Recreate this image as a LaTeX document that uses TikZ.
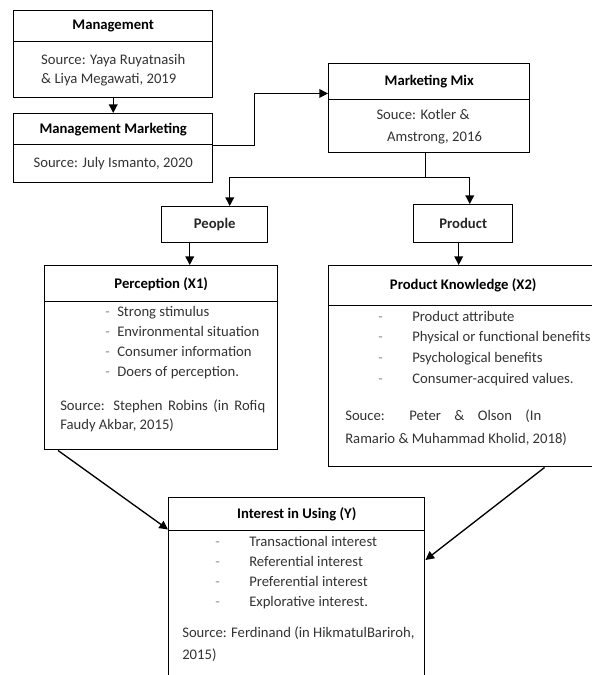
\documentclass[tikz,border=0pt]{standalone}
\usepackage{fontspec}
\setmainfont{Carlito}
\usetikzlibrary{arrows.meta,positioning}

\tikzset{
  box/.style={draw, line width=1.1pt, inner sep=0pt, anchor=north west,
    font=\fontsize{11}{14.25}\selectfont, text=black!80, align=left},
  head/.style={box, font=\fontsize{11}{14}\selectfont\bfseries, text=black},
  txt/.style={inner sep=0pt, anchor=north west, align=left, text=black!80},
  link/.style={line width=1pt, -{Triangle[length=6.5pt,width=6.5pt]}}
}
\newcommand{\itm}[2]{\makebox[#1][l]{\textcolor{black!45}{-}}#2}

\begin{document}
\begin{tikzpicture}[x=0.75pt, y=-0.75pt]
  \useasboundingbox (0,0) rectangle (592,675);
  \clip (0,0) rectangle (592,675);

  % Management
  \node[head, minimum width=149.25pt, minimum height=23.25pt] (mgmthead) at (13,10) {Management};
  \node[box, minimum width=149.25pt, minimum height=42pt] (mgmtbody) at (13,41)
    {Source: Yaya Ruyatnasih\\\& Liya Megawati, 2019};

  % Management Marketing
  \node[head, minimum width=149.25pt, minimum height=23.25pt] (mmhead) at (13,113) {Management Marketing};
  \node[box, minimum width=149.25pt, minimum height=28.5pt] (mmbody) at (13,144)
    {Source: July Ismanto, 2020};

  % Marketing Mix
  \node[head, minimum width=150.75pt, minimum height=27pt] (mixhead) at (328,63) {Marketing Mix};
  \node[box, minimum width=150.75pt, minimum height=39.75pt,
    font=\fontsize{11}{16.5}\selectfont] (mixbody) at (328,99)
    {Souce: Kotler \&\\\hspace*{8pt}Amstrong, 2016};

  % People and Product
  \node[head, text=black!85, minimum width=79.5pt, minimum height=27pt] (people) at (161,206) {People};
  \node[head, text=black!85, minimum width=74.25pt, minimum height=28.5pt] (product) at (413,204) {Product};

  % Perception (X1)
  \node[head, minimum width=174.75pt, minimum height=27pt] (perchead) at (44,265) {Perception (X1)};
  \node[box, minimum width=174.75pt, minimum height=111pt] (percbody) at (44,301) {};
  \node[txt, font=\fontsize{11}{15}\selectfont] (perclist) at (105,306)
    {\itm{9pt}{Strong stimulus}\\\itm{9pt}{Environmental situation}\\
     \itm{9pt}{Consumer information}\\\itm{9pt}{Doers of perception.}};
  \node[txt, font=\fontsize{11}{14.25}\selectfont] (percsrc) at (60,400)
    {\makebox[153.75pt][s]{Source: Stephen Robins (in Rofiq}\\Faudy Akbar, 2015)};

  % Product Knowledge (X2)
  \node[head, minimum width=201.75pt, minimum height=30pt] (pkhead) at (328,265) {Product Knowledge (X2)};
  \node[box, minimum width=201.75pt, minimum height=120.75pt] (pkbody) at (328,305) {};
  \node[txt, font=\fontsize{11}{15.4}\selectfont] (pklist) at (378,311)
    {\itm{25.5pt}{Product attribute}\\\itm{25.5pt}{Physical or functional benefits}\\
     \itm{25.5pt}{Psychological benefits}\\\itm{25.5pt}{Consumer-acquired values.}};
  \node[txt, font=\fontsize{11}{17.25}\selectfont] (pksrc) at (345,410)
    {\makebox[147pt][s]{Souce: Peter \& Olson (In}\\Ramario \& Muhammad Kholid, 2018)};

  % Interest in Using (Y)
  \node[head, minimum width=192pt, minimum height=24.75pt] (inthead) at (168,497) {Interest in Using (Y)};
  \node[box, minimum width=192pt, minimum height=112.5pt] (intbody) at (168,530) {};
  \node[txt, font=\fontsize{11}{15}\selectfont] (intlist) at (215,536)
    {\itm{25.5pt}{Transactional interest}\\\itm{25.5pt}{Referential interest}\\
     \itm{25.5pt}{Preferential interest}\\\itm{25.5pt}{Explorative interest.}};
  \node[txt, font=\fontsize{11}{16.5}\selectfont] (intsrc) at (182,627)
    {Source: Ferdinand (in HikmatulBariroh,\\2015)};

  % connectors
  \draw[link] (mgmtbody.south) -- (mmhead.north);
  \draw[link] (mmhead.south east) -- ++(41,0) |- ([yshift=5.25pt]mixhead.south west);
  \draw[line width=1pt] ([xshift=-2.6pt]mixbody.south) -- ++(0,24) coordinate (split);
  \draw[link] (split) -| ([xshift=11.25pt]people.north);
  \draw[link] (split) -| ([xshift=4.9pt]product.north);
  \draw[link] ([xshift=-18.75pt]people.south) -- ([xshift=-18.75pt]people.south |- perchead.north);
  \draw[link] ([xshift=-3.4pt]product.south) -- ([xshift=-3.4pt]product.south |- pkhead.north);
  \draw[link] ([xshift=10.5pt]percbody.south west) -- ([yshift=1.5pt]inthead.south west);
  \draw[link] ([xshift=61pt]pkbody.south) -- ([yshift=-22.5pt]intbody.north east);
\end{tikzpicture}
\end{document}
